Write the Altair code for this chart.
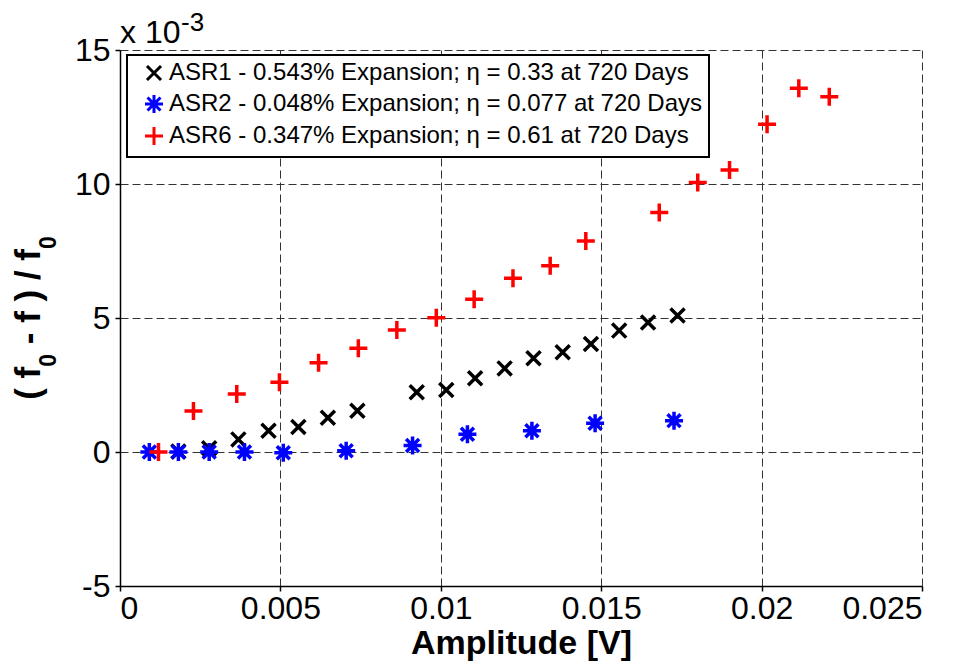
import altair as alt
import pandas as pd

FONT = "Liberation Sans"

series_names = [
    "ASR1 - 0.543% Expansion; η = 0.33 at 720 Days",
    "ASR2 - 0.048% Expansion; η = 0.077 at 720 Days",
    "ASR6 - 0.347% Expansion; η = 0.61 at 720 Days",
]
series_colors = ["#000000", "#0000ff", "#ff0000"]
series_shapes = [
    "M-0.78,-0.78L0.78,0.78M-0.78,0.78L0.78,-0.78",
    "M-1,0L1,0M0,-1L0,1M-0.72,-0.72L0.72,0.72M-0.72,0.72L0.72,-0.72",
    "M-1,0L1,0M0,-1L0,1",
]

# ASR1 (black x)
asr1_amp = [0.00182, 0.00278, 0.00369, 0.00463, 0.00556, 0.00648, 0.00740, 0.00925,
            0.01017, 0.01107, 0.01199, 0.01289, 0.01380, 0.01468, 0.01556, 0.01646, 0.01738]
asr1_val = [0.02, 0.14, 0.47, 0.79, 0.93, 1.28, 1.54, 2.23,
            2.31, 2.75, 3.12, 3.50, 3.72, 4.03, 4.53, 4.83, 5.09]

# ASR2 (blue asterisk)
asr2_amp = [0.000915, 0.00182, 0.00278, 0.00388, 0.00509, 0.00705, 0.00912,
            0.01083, 0.01284, 0.01481, 0.01727]
asr2_val = [0.0, 0.0, 0.0, 0.0, -0.03, 0.05, 0.24, 0.66, 0.79, 1.07, 1.17]

# ASR6 (red plus)
asr6_amp = [0.00120, 0.00229, 0.00364, 0.00497, 0.00619, 0.00743, 0.00863, 0.00986,
            0.01104, 0.01225, 0.01341, 0.01452, 0.01681, 0.01801, 0.01900, 0.02017,
            0.02116, 0.02211]
asr6_val = [0.0, 1.53, 2.16, 2.60, 3.33, 3.87, 4.55, 5.01,
            5.70, 6.48, 6.95, 7.87, 8.94, 10.06, 10.52, 12.23,
            13.57, 13.26]

x_ticks = [0, 0.005, 0.01, 0.015, 0.02, 0.025]
y_ticks = [-5, 0, 5, 10, 15]

rows = []
for name, amps, vals in zip(series_names, [asr1_amp, asr2_amp, asr6_amp],
                            [asr1_val, asr2_val, asr6_val]):
    for a, v in zip(amps, vals):
        rows.append({"series": name, "amp": a, "val": v})
df = pd.DataFrame(rows)

legend = alt.Legend(
    title=None, orient="none", legendX=7, legendY=5,
    strokeColor="black", fillColor="white", padding=6,
    labelFont=FONT, labelFontSize=24, labelColor="black", labelLimit=1000,
    symbolSize=324, symbolStrokeWidth=3, symbolOffset=9, labelOffset=3,
    rowPadding=2,
)

points = alt.Chart(df).mark_point(filled=False, size=324, strokeWidth=3.5, opacity=1).encode(
    x=alt.X("amp:Q", scale=alt.Scale(domain=[0, 0.025], nice=False, zero=False),
            axis=alt.Axis(values=x_ticks, labelExpr="'' + datum.value",
                          title="Amplitude [V]", titleX=401, titleY=67,
                          titleBaseline="alphabetic", titleAlign="center")),
    y=alt.Y("val:Q", scale=alt.Scale(domain=[-5, 15], nice=False, zero=False),
            axis=alt.Axis(values=y_ticks, labelExpr="'' + datum.value", title=None)),
    color=alt.Color("series:N", scale=alt.Scale(domain=series_names, range=series_colors),
                    legend=legend),
    shape=alt.Shape("series:N", scale=alt.Scale(domain=series_names, range=series_shapes),
                    legend=legend),
)

one = alt.Data(values=[{"a": 1}])
exp_main = alt.Chart(one).mark_text(text="x 10", align="left", baseline="alphabetic",
                                    font=FONT, fontSize=32, color="black").encode(
    x=alt.value(0), y=alt.value(-7))
exp_sup = alt.Chart(one).mark_text(text="-3", align="left", baseline="alphabetic",
                                   font=FONT, fontSize=26, color="black").encode(
    x=alt.value(61), y=alt.value(-19))

# Y-axis title "( f0 - f ) / f0" built from rotated pieces (with subscripts)
F, S = 35, 23
w_p1 = (0.333 + 0.278 + 0.333) * F          # "( f"
w_sub = 0.556 * S                           # "0"
w_sp = 0.278 * F                            # leading space of piece 2
w_p2 = (0.333 + 0.278 + 0.333 + 0.278 + 0.333 + 0.278 + 0.278 + 0.278 + 0.333) * F
total = w_p1 + w_sub + w_sp + w_p2 + w_sub
y_start = 268 + total / 2
base_x = -80
sub_x = -64
title_pieces = [
    ("( f", F, base_x, y_start),
    ("0", S, sub_x, y_start - w_p1),
    ("- f ) / f", F, base_x, y_start - w_p1 - w_sub - w_sp),
    ("0", S, sub_x, y_start - w_p1 - w_sub - w_sp - w_p2),
]
title_layers = []
for txt, fs, px, py in title_pieces:
    title_layers.append(
        alt.Chart(one).mark_text(text=txt, align="left", baseline="alphabetic", angle=270,
                                 font=FONT, fontSize=fs, fontWeight="bold", color="black")
        .encode(x=alt.value(px), y=alt.value(py))
    )

chart = alt.layer(points, exp_main, exp_sup, *title_layers).properties(
    width=802, height=536,
    autosize=alt.AutoSizeParams(type="none"),
    padding={"left": 112, "top": 42, "right": 39, "bottom": 77},
).configure_view(strokeWidth=0).configure_axis(
    grid=True, gridColor="#333333", gridDash=[8, 4], gridWidth=1, gridOpacity=1,
    domainColor="black", domainWidth=1.5, tickColor="black", tickSize=5, tickWidth=1.5,
    labelFont=FONT, labelFontSize=32, labelColor="black", labelPadding=2,
    titleFont=FONT, titleFontSize=34, titleFontWeight="bold", titleColor="black",
).configure_axisY(labelPadding=5).configure_legend(strokeWidth=2)

chart.save("out.html", embed_options={"renderer": "svg", "actions": False})
